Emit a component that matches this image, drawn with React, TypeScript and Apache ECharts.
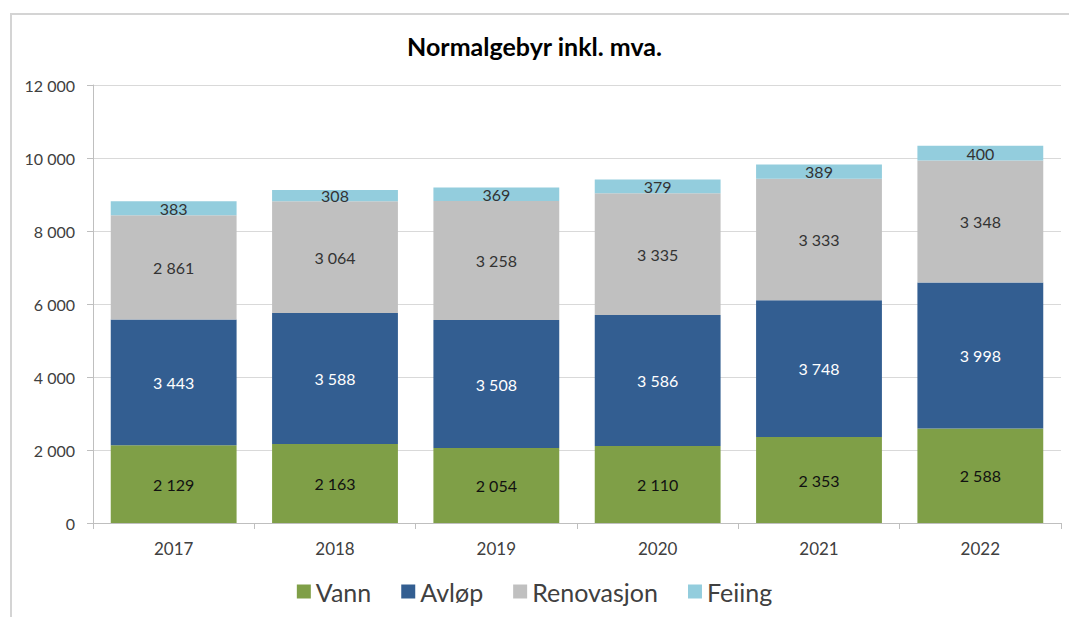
import React, { useEffect, useRef } from "react";
import * as echarts from "echarts";

const years = ["2017", "2018", "2019", "2020", "2021", "2022"];
const vann = [2129, 2163, 2054, 2110, 2353, 2588];
const avlop = [3443, 3588, 3508, 3586, 3748, 3998];
const renovasjon = [2861, 3064, 3258, 3335, 3333, 3348];
const feiing = [383, 308, 369, 379, 389, 400];

const fmt = (v: number) => {
  const s = String(Math.round(v));
  return s.replace(/\B(?=(\d{3})+(?!\d))/g, " ");
};

const FONT = "Lato, 'Open Sans', sans-serif";

export default function App() {
  const ref = useRef<HTMLDivElement>(null);
  useEffect(() => {
    document.body.style.margin = "0";
    const chart = echarts.init(ref.current!, undefined, { renderer: "svg" });
    const mk = (name: string, data: number[], color: string, labelColor: string) => ({
      name,
      type: "bar",
      stack: "total",
      data,
      barWidth: "78%",
      itemStyle: { color },
      label: {
        show: true,
        position: "inside",
        color: labelColor,
        fontFamily: FONT,
        fontSize: 16,
        formatter: (p: any) => fmt(p.value),
      },
    });
    chart.setOption({
      animation: false,
      textStyle: { fontFamily: FONT },
      title: {
        text: "Normalgebyr inkl. mva.",
        left: "center",
        top: 28,
        textStyle: { fontFamily: FONT, fontSize: 25, fontWeight: "bold", color: "#000" },
      },
      graphic: [
        {
          type: "rect",
          shape: { x: 11, y: 14, width: 1070, height: 620 },
          style: { fill: "none", stroke: "#d4d4d4", lineWidth: 2 },
          silent: true,
          z: -1,
        },
      ],
      legend: {
        bottom: 8,
        left: "center",
        itemWidth: 14,
        itemHeight: 14,
        itemGap: 30,
        icon: "rect",
        textStyle: { fontFamily: FONT, fontSize: 25, color: "#404040" },
        data: ["Vann", "Avløp", "Renovasjon", "Feiing"],
      },
      grid: { left: 93, right: 8, top: 85, bottom: 94 },
      xAxis: {
        type: "category",
        data: years,
        axisLine: { lineStyle: { color: "#bfbfbf" } },
        axisTick: { show: true, length: 6, lineStyle: { color: "#bfbfbf" } },
        axisLabel: { color: "#404040", fontSize: 17, margin: 17, fontFamily: FONT },
      },
      yAxis: {
        type: "value",
        min: 0,
        max: 12000,
        interval: 2000,
        axisLine: { show: true, lineStyle: { color: "#bfbfbf" } },
        axisTick: { show: true, length: 6, lineStyle: { color: "#bfbfbf" } },
        splitLine: { lineStyle: { color: "#d9d9d9" } },
        axisLabel: {
          color: "#404040",
          fontSize: 16,
          margin: 18,
          fontFamily: FONT,
          formatter: (v: number) => fmt(v),
        },
      },
      series: [
        mk("Vann", vann, "#7f9f47", "#111111"),
        mk("Avløp", avlop, "#335e91", "#ffffff"),
        mk("Renovasjon", renovasjon, "#c0c0c0", "#333333"),
        mk("Feiing", feiing, "#93cddd", "#333333"),
      ],
    });
    return () => chart.dispose();
  }, []);
  return <div ref={ref} style={{ width: 1069, height: 617 }} />;
}
